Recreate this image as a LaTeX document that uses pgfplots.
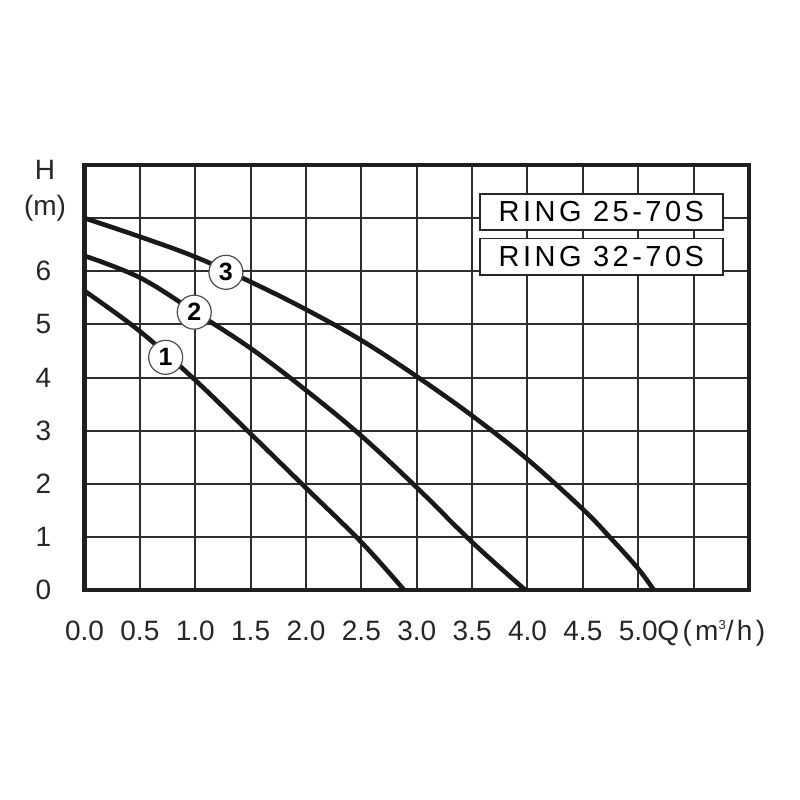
\documentclass[border=0pt]{standalone}
\usepackage{pgfplots}
\pgfplotsset{compat=1.18}
\usepackage{fontspec}
\setmainfont{Liberation Sans}
\begin{document}
\begin{tikzpicture}
\path (-42.25pt,-105pt) rectangle (357.75pt,295pt);
\begin{axis}[
  at={(0,0)}, anchor=south west,
  scale only axis, width=332.25pt, height=212.5pt,
  xmin=0, xmax=6, ymin=0, ymax=8,
  xtick={0,0.5,1,1.5,2,2.5,3,3.5,4,4.5,5,5.5,6},
  ytick={0,1,2,3,4,5,6,7,8},
  xticklabels={0.0,0.5,1.0,1.5,2.0,2.5,3.0,3.5,4.0,4.5,5.0,,},
  yticklabels={0,1,2,3,4,5,6,,},
  major tick length=0pt,
  grid=major,
  major grid style={line width=1pt, color=black!82},
  axis line style={line width=2.2pt, color=black!88, line join=miter},
  tick label style={font=\fontsize{14}{16}\selectfont, text=black!85},
  xticklabel style={anchor=base, yshift=-25.35pt},
  yticklabel style={anchor=center, xshift=-20.6pt},
  /pgf/number format/assume math mode=true,
]
% curve 1
\addplot[line width=2.3pt, black!90, smooth, tension=0.6] coordinates {
 (0,5.63) (0.5,4.87) (1.0,3.95) (1.5,2.94) (2.0,1.92) (2.5,0.90) (2.886,0)};
% curve 2
\addplot[line width=2.3pt, black!90, smooth, tension=0.6] coordinates {
 (0,6.29) (0.5,5.88) (1.0,5.23) (1.5,4.55) (2.0,3.76) (2.5,2.90) (3.0,1.93) (3.5,0.90) (3.98,0)};
% curve 3
\addplot[line width=2.3pt, black!90, smooth, tension=0.6] coordinates {
 (0,7.0) (0.5,6.65) (1.0,6.27) (1.5,5.80) (2.0,5.28) (2.5,4.70) (3.0,4.02) (3.5,3.28) (4.0,2.46) (4.5,1.52) (4.75,0.98) (5.0,0.40) (5.14,0)};
% curve number markers
\node[circle, draw=black!70, line width=0.6pt, fill=white, minimum size=17pt, inner sep=0pt,
  font=\fontsize{12.5}{14}\selectfont\bfseries] at (axis cs:0.733,4.38) {1};
\node[circle, draw=black!70, line width=0.6pt, fill=white, minimum size=17pt, inner sep=0pt,
  font=\fontsize{12.5}{14}\selectfont\bfseries] at (axis cs:0.991,5.23) {2};
\node[circle, draw=black!70, line width=0.6pt, fill=white, minimum size=17pt, inner sep=0pt,
  font=\fontsize{12.5}{14}\selectfont\bfseries] at (axis cs:1.277,5.98) {3};
% model boxes
\node[draw=black!85, line width=0.8pt, fill=white, minimum width=121.5pt, minimum height=18pt, inner sep=0pt,
  font=\fontsize{14.5}{17}\selectfont\addfontfeature{LetterSpace=12}] at (axis cs:4.667,7.115) {RING 25-70S};
\node[draw=black!85, line width=0.8pt, fill=white, minimum width=121.5pt, minimum height=18.35pt, inner sep=0pt,
  font=\fontsize{14.5}{17}\selectfont\addfontfeature{LetterSpace=12}] at (axis cs:4.667,6.274) {RING 32-70S};
\end{axis}
% x axis label
\node[anchor=base west, inner sep=0pt, text=black!85,
  font=\fontsize{14}{16}\selectfont\addfontfeature{LetterSpace=12}] at (286.25pt,-25.35pt)
  {Q(m\raisebox{5.5pt}{\fontsize{6.5}{7}\selectfont 3}/h)};
\node[text=black!85, font=\fontsize{14}{16}\selectfont] at (-19.75pt,210pt) {H};
\node[text=black!85, font=\fontsize{14}{16}\selectfont] at (-19.75pt,190.85pt) {(m)};
\end{tikzpicture}
\end{document}
